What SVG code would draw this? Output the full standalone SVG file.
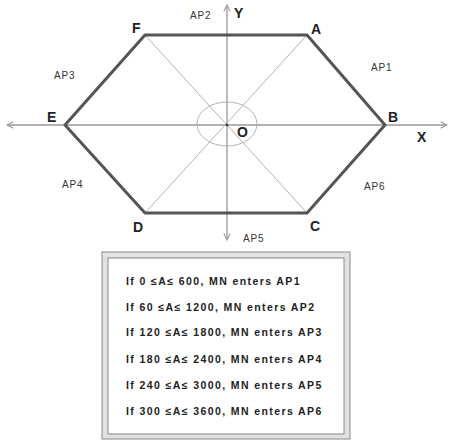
<svg xmlns="http://www.w3.org/2000/svg" width="450" height="441" viewBox="0 0 450 441">
<style>
.lbl{font-family:"Liberation Sans",Arial,sans-serif;font-weight:bold;font-size:14px;fill:#222}
.ap{font-family:"Liberation Sans",Arial,sans-serif;font-size:10px;letter-spacing:0.8px;fill:#333}
.rule{font-family:"Liberation Sans",Arial,sans-serif;font-weight:bold;font-size:10.5px;letter-spacing:1.4px;fill:#222}
.axis{stroke:#999;stroke-width:1.3;fill:none}
.thin{stroke:#aaa;stroke-width:0.9;fill:none}
</style>
<defs>
<marker id="arr" viewBox="0 0 10 10" refX="9" refY="5" markerWidth="8" markerHeight="8" orient="auto" markerUnits="userSpaceOnUse">
<path d="M1,1 L9,5 L1,9" fill="none" stroke="#999" stroke-width="1.3"/>
</marker>
</defs>
<g id="connectors">
<line class="axis" x1="227" y1="125" x2="447" y2="125" marker-end="url(#arr)"/>
<line class="axis" x1="227" y1="125" x2="7" y2="125" marker-end="url(#arr)"/>
<line class="axis" x1="227" y1="125" x2="227" y2="5" marker-end="url(#arr)"/>
<line class="axis" x1="227" y1="125" x2="227" y2="240" marker-end="url(#arr)"/>
<line class="thin" x1="145" y1="35" x2="307" y2="213"/>
<line class="thin" x1="307" y1="35" x2="145" y2="213"/>
<ellipse class="thin" cx="227" cy="124" rx="30" ry="22" stroke="#888"/>
<circle cx="227" cy="125" r="1.3" fill="#333"/>
</g>
<g id="hexagon">
<polygon points="145,35 307,35 385,125 307,213 145,213 65,125" fill="none" stroke="#555" stroke-width="3" stroke-linejoin="round"/>
</g>
<g id="vertex-labels">
<text class="lbl" x="132" y="33">F</text>
<text class="lbl" x="311" y="34">A</text>
<text class="lbl" x="388" y="122">B</text>
<text class="lbl" x="417" y="142">X</text>
<text class="lbl" x="47" y="122">E</text>
<text class="lbl" x="133" y="232">D</text>
<text class="lbl" x="310" y="231">C</text>
<text class="lbl" x="237" y="137">O</text>
<text class="lbl" x="234" y="18">Y</text>
</g>
<g id="ap-labels">
<text class="ap" x="190" y="19">AP2</text>
<text class="ap" x="371" y="71">AP1</text>
<text class="ap" x="54" y="79">AP3</text>
<text class="ap" x="62" y="188">AP4</text>
<text class="ap" x="364" y="190">AP6</text>
<text class="ap" x="243" y="242">AP5</text>
</g>
<g id="rules-box">
<rect x="102" y="252" width="248" height="187" fill="#e2e2e2" stroke="#888" stroke-width="1"/>
<rect x="108" y="258" width="236" height="176" fill="#fff" stroke="#888" stroke-width="1"/>
<text class="rule" x="126" y="285">If 0 ≤A≤ 600, MN enters AP1</text>
<text class="rule" x="126" y="311">If 60 ≤A≤ 1200, MN enters AP2</text>
<text class="rule" x="126" y="336">If 120 ≤A≤ 1800, MN enters AP3</text>
<text class="rule" x="126" y="363">If 180 ≤A≤ 2400, MN enters AP4</text>
<text class="rule" x="126" y="389">If 240 ≤A≤ 3000, MN enters AP5</text>
<text class="rule" x="126" y="415">If 300 ≤A≤ 3600, MN enters AP6</text>
</g>
</svg>
